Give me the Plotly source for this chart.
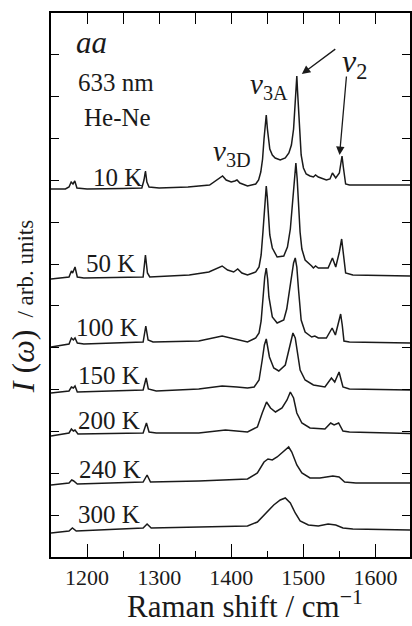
import plotly.graph_objects as go

# Raman shift (cm^-1) and intensity (arb. units, stacked) for each temperature
wn_10 = [1150, 1170, 1175, 1178, 1180.5, 1183, 1186, 1200, 1250, 1276, 1279, 1281, 1283, 1286, 1300, 1340, 1370,
         1383, 1388, 1393, 1400, 1405, 1408, 1412, 1422.6, 1434, 1438, 1441, 1443.5, 1445.5, 1447, 1448.6, 1450.2,
         1451.6, 1453.5, 1457, 1461, 1468, 1475, 1480, 1483.5, 1486.5, 1488.5, 1490, 1491, 1492, 1493.4, 1495,
         1497, 1500.2, 1504, 1509.3, 1514, 1517, 1520.8, 1532, 1537, 1540.4, 1545, 1550, 1552.5, 1553.7, 1555.5,
         1558.7, 1564, 1600, 1648]
I_10 = [368, 368, 370, 375, 373, 376, 369, 368, 368.5, 369, 377, 386, 375, 370, 369, 370, 372,
        378, 381, 377, 375, 376, 377, 374, 371, 373, 377, 385, 398, 418, 432, 442, 428,
        416, 408, 402, 399, 397, 399, 404, 412, 428, 448, 468, 481, 466, 448, 420,
        402, 389, 383, 381, 380, 382, 380, 377, 378, 384, 379, 384, 394, 401, 390,
        373, 372, 372, 372]

wn_50 = [1150, 1175, 1178.3, 1180, 1183.3, 1186.5, 1195.6, 1277.8, 1281, 1283.8, 1287, 1341.8, 1369, 1387.4, 1395,
         1403.4, 1409, 1414.8, 1422.6, 1434, 1438.6, 1441.5, 1444, 1446, 1447.5, 1448.6, 1450, 1451.5, 1453.5,
         1457, 1463.7, 1472.9, 1478, 1482, 1485, 1487.5, 1489.7, 1491.5, 1493.4, 1495.5, 1498, 1502.5, 1511.6,
         1514, 1517, 1520.8, 1534.4, 1540.4, 1545, 1550, 1553.2, 1555.5, 1558.7, 1568.7, 1648]
I_50 = [278, 280, 286, 284, 290, 280, 279, 280, 302, 284, 280, 282, 285, 291, 287,
        285, 288, 284, 282, 285, 290, 302, 325, 350, 364, 371, 360, 340, 322,
        309, 300, 301, 310, 328, 352, 375, 394, 378, 352, 325, 308, 297, 291,
        289, 291, 289, 289, 299, 290, 305, 318, 305, 284, 282, 281]

wn_100 = [1150, 1175, 1178.3, 1181, 1183.3, 1186.5, 1195.6, 1277.8, 1281.5, 1284.7, 1291.5, 1355, 1387.4, 1405.7,
          1422.6, 1434, 1438.6, 1441.5, 1444, 1446.5, 1448.6, 1450.5, 1452.3, 1455, 1457, 1463.7, 1472.9, 1477,
          1481, 1484, 1486.5, 1488.8, 1491, 1493.4, 1495.5, 1497, 1502.5, 1511.6, 1516, 1520.8, 1532, 1540,
          1544.5, 1549, 1551.8, 1554, 1556.4, 1564, 1648]
I_100 = [210, 213, 219, 217, 219, 214, 213, 215, 231, 217, 215, 216, 221, 218,
         215, 219, 224, 236, 258, 280, 289, 278, 260, 246, 240, 234, 237, 248,
         266, 281, 294, 299, 290, 267, 248, 237, 225, 220, 221, 219, 219, 229,
         222, 235, 243, 232, 216, 215, 214]

wn_150 = [1150, 1175, 1178.3, 1181, 1183.3, 1186.5, 1277.8, 1282, 1285, 1296, 1355, 1387.4, 1408, 1422.6, 1431.8,
          1438.6, 1443, 1446, 1448.6, 1451, 1453, 1459, 1466, 1475, 1480.6, 1483.5, 1485.6, 1488.8, 1492, 1495.6,
          1502.5, 1514, 1530, 1539, 1543.6, 1549.6, 1555, 1564, 1648]
I_150 = [164, 166, 170, 169, 171, 165, 167, 179, 168, 166, 168, 171, 170, 169, 170,
         177, 197, 212, 218, 210, 200, 189, 186, 192, 210, 220, 224, 219, 204, 187,
         177, 172, 170, 179, 175, 185, 170, 168, 167]

wn_200 = [1150, 1175, 1178.3, 1181, 1183.3, 1187.4, 1277.8, 1282.4, 1286, 1296, 1355, 1392, 1422.6, 1436.3, 1443,
          1449, 1454.5, 1461.4, 1470.5, 1477.4, 1482, 1486.5, 1491, 1498, 1509.3, 1530, 1538, 1542.7, 1549, 1555,
          1564, 1648]
I_200 = [121, 124, 128, 126, 127, 123, 124, 134, 125, 124, 124, 127, 125, 130, 144,
         155, 149, 145, 149, 157, 165, 159, 144, 134, 129, 128, 134, 132, 134, 126,
         125, 123.5]

wn_240 = [1150, 1175, 1178.8, 1181.5, 1186.5, 1277.8, 1283.3, 1288, 1355, 1422.6, 1436.3, 1445.5, 1451, 1457,
          1463.7, 1472.9, 1479.7, 1484, 1491, 1498, 1509.3, 1523, 1532, 1541, 1549.6, 1557.3, 1573, 1648]
I_240 = [72, 74, 77, 76, 73, 75, 82, 75, 76, 78, 84, 95, 98, 97,
         100, 106, 110, 105, 92, 84, 79, 79, 80, 81, 80, 75, 74, 74]

wn_300 = [1150, 1175, 1179.7, 1185, 1277.8, 1283.3, 1289, 1355, 1422.6, 1436.3, 1447.7, 1459, 1468, 1475, 1482,
          1488.8, 1495.6, 1507, 1520.8, 1534.4, 1545, 1555, 1568.7, 1648]
I_300 = [24, 26, 29, 26, 29, 33, 29, 30, 31, 35, 44, 52, 57, 59, 54,
         44, 36, 32, 31, 33, 32, 29, 28, 27]

temps = ["10 K", "50 K", "100 K", "150 K", "200 K", "240 K", "300 K"]
label_x = [1278.6, 1269, 1273.1, 1275.9, 1275.9, 1277.2, 1275.9]
label_y = [379.5, 294, 230, 182, 137, 88, 42.5]

spectra = [(wn_10, I_10), (wn_50, I_50), (wn_100, I_100), (wn_150, I_150),
           (wn_200, I_200), (wn_240, I_240), (wn_300, I_300)]

x_range = [1150, 1648]
y_range = [0, 544]
y_tick_step = 544 / 13

SERIF = "Liberation Serif"
INK = "#1a1a1a"

fig = go.Figure()
for (wx, wy), t in zip(spectra, temps):
    fig.add_trace(go.Scatter(x=wx, y=wy, mode="lines", name=t,
                             line=dict(color=INK, width=1.5), showlegend=False, hoverinfo="skip"))

# invisible trace to carry the top tick axis
fig.add_trace(go.Scatter(x=wn_10, y=I_10, xaxis="x2", mode="lines", opacity=0,
                         line=dict(width=0), showlegend=False, hoverinfo="skip"))

fig.update_layout(
    width=412, height=626,
    margin=dict(l=51, r=0, t=13, b=69),
    paper_bgcolor="white", plot_bgcolor="white",
    font=dict(family=SERIF, color="black"),
    xaxis=dict(range=x_range, dtick=100, tick0=1200, ticks="inside", ticklen=13, tickwidth=1.3,
               tickcolor="black", showline=True, linecolor="black", linewidth=1.6, mirror=True,
               showgrid=False, zeroline=False, tickfont=dict(size=22, family=SERIF, color=INK),
               minor=dict(dtick=50, tick0=1150, ticks="inside", ticklen=6, tickwidth=1.3, tickcolor="black",
                          showgrid=False)),
    xaxis2=dict(range=x_range, overlaying="x", side="top", matches="x", dtick=50, tick0=1150,
                ticks="inside", ticklen=11, tickwidth=1.3, tickcolor="black", showticklabels=False,
                showline=False, showgrid=False, zeroline=False),
    yaxis=dict(range=y_range, dtick=y_tick_step, tick0=0, ticks="inside", ticklen=8, tickwidth=1.3,
               tickcolor="black", showline=True, linecolor="black", linewidth=1.6, mirror="ticks",
               showticklabels=False, showgrid=False, zeroline=False),
)

ann = []
for t, lx, ly in zip(temps, label_x, label_y):
    ann.append(dict(x=lx, y=ly, xref="x", yref="y", text=t, showarrow=False, xanchor="right",
                    yanchor="middle", font=dict(size=25, family=SERIF, color=INK)))

ann += [
    dict(x=1205.5, y=515, xref="x", yref="y", text="<i>aa</i>", showarrow=False,
         font=dict(size=31, family=SERIF, color=INK)),
    dict(x=1240, y=474.5, xref="x", yref="y", text="633 nm", showarrow=False,
         font=dict(size=25, family=SERIF, color=INK)),
    dict(x=1242.8, y=440, xref="x", yref="y", text="He-Ne", showarrow=False,
         font=dict(size=25, family=SERIF, color=INK)),
    dict(x=1371.4, y=404, xref="x", yref="y", text="<i>ν</i><sub>3D</sub>", showarrow=False,
         xanchor="left", font=dict(size=29, family=SERIF, color=INK)),
    dict(x=1423.4, y=471, xref="x", yref="y", text="<i>ν</i><sub>3A</sub>", showarrow=False,
         xanchor="left", font=dict(size=29, family=SERIF, color=INK)),
    dict(x=1550.3, y=494, xref="x", yref="y", text="<i>ν</i><sub>2</sub>", showarrow=False,
         xanchor="left", font=dict(size=32, family=SERIF, color=INK)),
    # arrows
    dict(x=1497.9, y=483, xref="x", yref="y", text="", showarrow=True, ax=35, ay=-26,
         arrowhead=2, arrowsize=1.3, arrowwidth=1.3, arrowcolor=INK, standoff=0),
    dict(x=1550.3, y=402, xref="x", yref="y", text="", showarrow=True, ax=7, ay=-80,
         arrowhead=2, arrowsize=1.3, arrowwidth=1.3, arrowcolor=INK, standoff=0),
    # axis titles
    dict(x=0.54, y=-0.088, xref="paper", yref="paper", text="Raman shift / cm<sup>−1</sup>",
         showarrow=False, xanchor="center", yanchor="middle", font=dict(size=31, family=SERIF, color=INK)),
    dict(x=-0.078, y=0.36, xref="paper", yref="paper", textangle=-90,
         text="<i>I</i> (<i>ω</i>)",
         showarrow=False, xanchor="center", yanchor="middle", font=dict(size=32, family=SERIF, color=INK)),
    dict(x=-0.07, y=0.53, xref="paper", yref="paper", textangle=-90,
         text="/ arb. units",
         showarrow=False, xanchor="center", yanchor="middle", font=dict(size=23, family=SERIF, color=INK)),
]
fig.update_layout(annotations=ann)

fig.write_html("out.html")
